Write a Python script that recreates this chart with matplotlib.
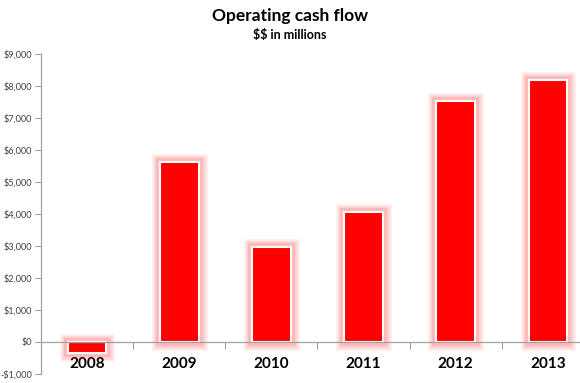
import matplotlib.pyplot as plt
import matplotlib.patheffects as pe
import numpy as np

years = ["2008", "2009", "2010", "2011", "2012", "2013"]
cash_flow = [-350, 5620, 2970, 4050, 7520, 8200]
yticks = [-1000, 0, 1000, 2000, 3000, 4000, 5000, 6000, 7000, 8000, 9000]

plt.rcParams['font.family'] = ['Lato', 'DejaVu Sans']
plt.rcParams['text.parse_math'] = False

fig = plt.figure(figsize=(5.8, 3.83), dpi=100)
ax = fig.add_axes([41/580, 9/383, 553/580, 320/383])

x = np.arange(len(years))
glow = [pe.Stroke(linewidth=12, foreground='#ff0000', alpha=0.07),
        pe.Stroke(linewidth=9, foreground='#ff0000', alpha=0.10),
        pe.Stroke(linewidth=6, foreground='#ff3030', alpha=0.16),
        pe.Normal()]
bars = ax.bar(x, cash_flow, width=0.42, color='#ff0000', edgecolor='white', linewidth=1.5)
for b in bars:
    b.set_path_effects(glow)

ax.set_xlim(-0.5, 5.5)
ax.set_ylim(-1000, 9000)
ax.set_yticks(yticks)
ax.set_yticklabels([("-$" if v < 0 else "$") + f"{abs(v):,}" for v in yticks])
ax.tick_params(axis='y', labelsize=6.6, colors='#404040', length=4, width=0.8,
               color='#a0a0a0', pad=2.5)

ax.spines['bottom'].set_position(('data', 0))
for s in ['top', 'right']:
    ax.spines[s].set_visible(False)
for s in ['left', 'bottom']:
    ax.spines[s].set_color('#a0a0a0')
    ax.spines[s].set_linewidth(0.9)

ax.set_xticks(x[:-1] + 0.5)
ax.set_xticklabels([])
ax.tick_params(axis='x', which='major', length=5, width=0.8, color='#a0a0a0', direction='out')
ax.set_xticks(x, minor=True)
ax.set_xticklabels(years, minor=True, fontsize=11, fontweight='bold', color='black')
ax.tick_params(axis='x', which='minor', length=0, pad=11)

fig.text(290/580, 1 - 16/383, "Operating cash flow", ha='center', va='center', fontsize=12.5, fontweight='bold')
fig.text(290/580, 1 - 35/383, "$$ in millions", ha='center', va='center', fontsize=9, fontweight='bold')

plt.savefig("out.png", dpi=100)
